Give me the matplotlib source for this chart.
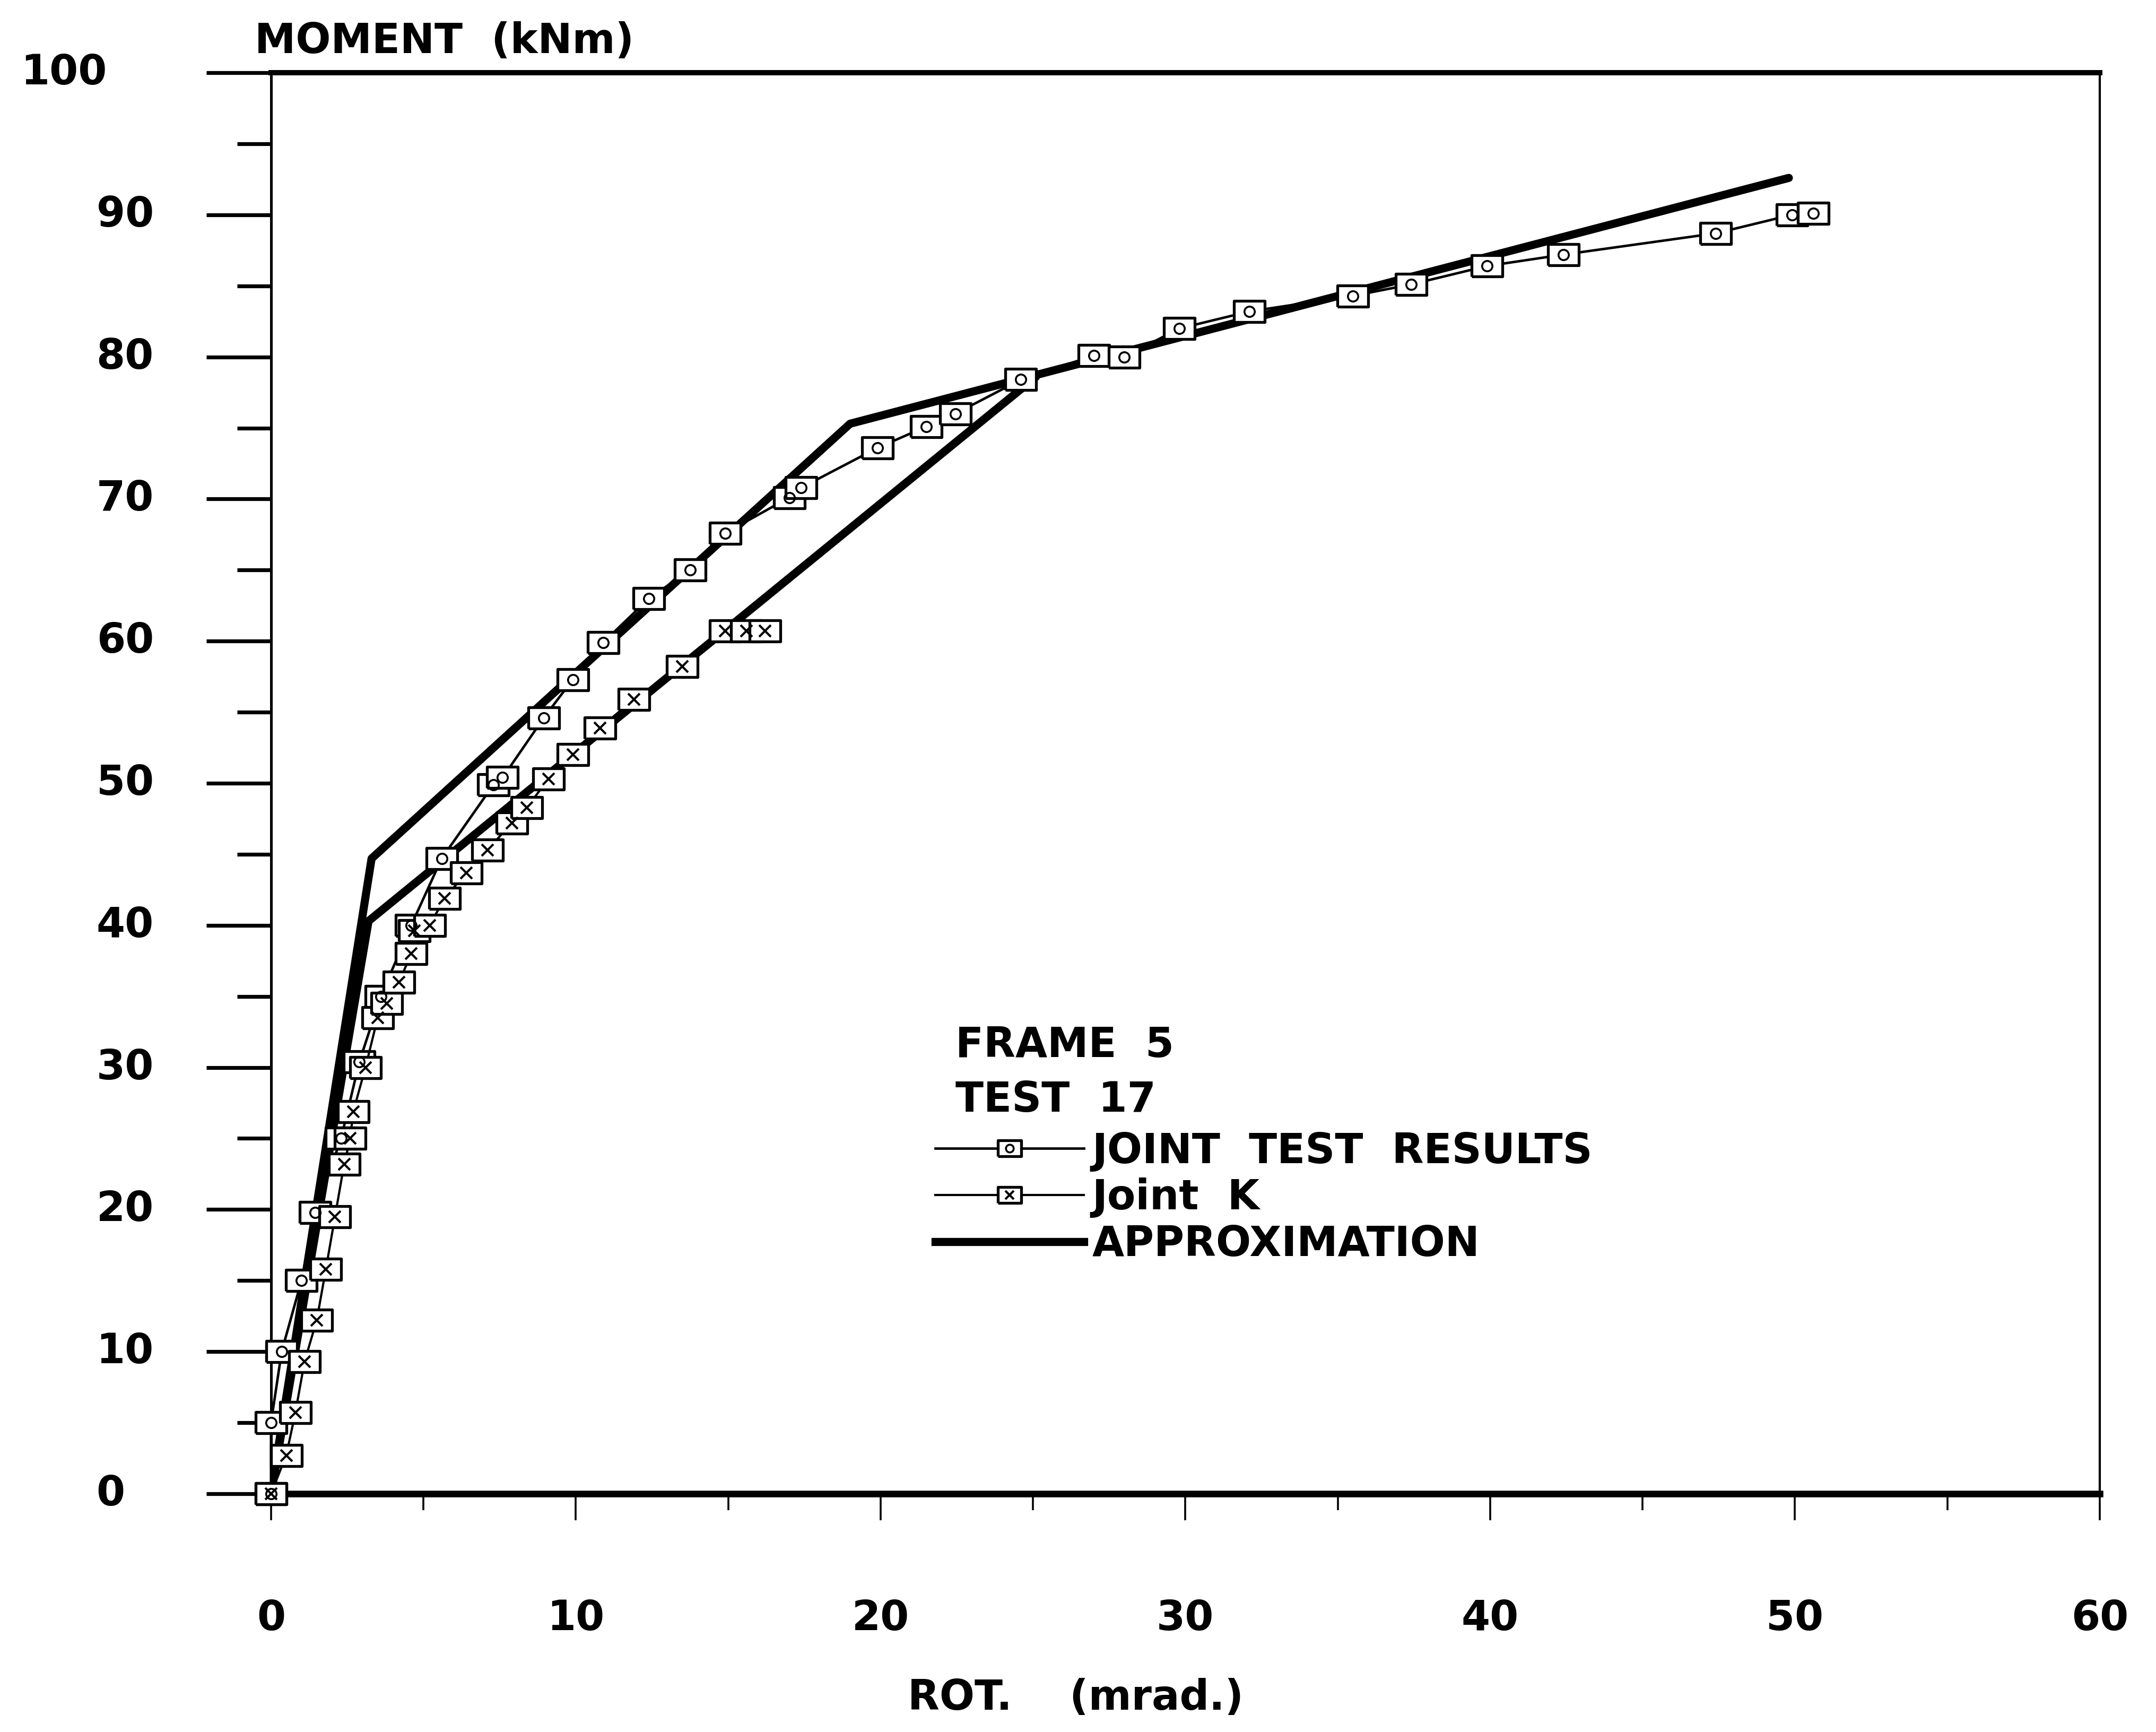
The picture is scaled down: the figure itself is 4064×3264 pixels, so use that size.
import matplotlib
matplotlib.use('Agg')
import matplotlib.pyplot as plt
from matplotlib.lines import Line2D
from matplotlib.legend_handler import HandlerTuple
from matplotlib.ticker import MultipleLocator

# joint test results (upper branch, goes on to 50 mrad)
test_rot = [0, 0.0, 0.35, 1.0, 1.45, 2.3, 2.9, 3.6, 4.6, 5.6, 7.3, 7.6, 8.95, 9.9,
            10.9, 12.4, 13.75, 14.9, 17.0, 17.4, 19.9, 21.5, 22.45, 24.6, 27.0, 28.0,
            29.8, 32.1, 35.5, 37.4, 39.9, 42.4, 47.4, 49.9, 50.6]
test_mom = [0, 5.0, 10.0, 15.0, 19.8, 25.0, 30.4, 35.0, 40.0, 44.7, 49.9, 50.4, 54.6, 57.3,
            59.9, 63.0, 65.0, 67.6, 70.1, 70.8, 73.6, 75.1, 76.0, 78.4, 80.1, 80.0,
            82.0, 83.2, 84.3, 85.1, 86.4, 87.2, 88.7, 90.0, 90.1]

# Joint K (lower branch, stops near 16 mrad)
k_rot = [0, 0.5, 0.8, 1.1, 1.5, 1.8, 2.1, 2.4, 2.6, 2.7, 3.1, 3.5, 3.8, 4.2, 4.6,
         4.7, 5.2, 5.7, 6.4, 7.1, 7.9, 8.4, 9.1, 9.9, 10.8, 11.9, 13.5, 14.9, 15.6, 16.2]
k_mom = [0, 2.7, 5.7, 9.3, 12.2, 15.8, 19.5, 23.2, 25.0, 26.9, 30.0, 33.5, 34.5, 36.0, 38.0,
         39.6, 40.0, 41.9, 43.7, 45.3, 47.2, 48.3, 50.3, 52.0, 53.9, 55.9, 58.2, 60.7, 60.7, 60.7]

# approximation (two multilinear branches)
appr1_rot = [0, 3.3, 19.0, 49.8]
appr1_mom = [0, 44.7, 75.3, 92.6]
appr2_rot = [0, 3.2, 25.1]
appr2_mom = [0, 40.3, 78.6]

x_ticks = [0, 10, 20, 30, 40, 50, 60]
y_ticks = [0, 10, 20, 30, 40, 50, 60, 70, 80, 90, 100]

FS = 28
plt.rcParams['font.family'] = 'DejaVu Sans'
plt.rcParams['font.weight'] = 'bold'

fig = plt.figure(figsize=(20.32, 16.32), dpi=200)
ax = fig.add_axes([0.1257, 0.1376, 0.8482, 0.8204])

# wide rectangular plotter marker
box = [(-1, -0.67), (1, -0.67), (1, 0.67), (-1, 0.67), (-1, -0.67)]

ax.plot(appr1_rot, appr1_mom, color='k', lw=5.5, solid_capstyle='round', zorder=2)
ax.plot(appr2_rot, appr2_mom, color='k', lw=5.5, solid_capstyle='round', zorder=2)

ln_t, = ax.plot(test_rot, test_mom, color='k', lw=1.7, marker=box, ms=21, mfc='white',
                mec='k', mew=1.9, zorder=3, clip_on=False)
in_t, = ax.plot(test_rot, test_mom, ls='none', marker='o', ms=7, mfc='none', mec='k',
                mew=1.3, zorder=4, clip_on=False)
ln_k, = ax.plot(k_rot, k_mom, color='k', lw=1.5, marker=box, ms=21, mfc='white',
                mec='k', mew=1.9, zorder=3, clip_on=False)
in_k, = ax.plot(k_rot, k_mom, ls='none', marker='x', ms=8, mec='k', mew=1.5,
                zorder=4, clip_on=False)
ln_a = Line2D([], [], color='k', lw=5.5)

ax.set_xlim(0, 60)
ax.set_ylim(0, 100)

ax.xaxis.set_major_locator(MultipleLocator(10))
ax.xaxis.set_minor_locator(MultipleLocator(5))
ax.yaxis.set_major_locator(MultipleLocator(10))
ax.yaxis.set_minor_locator(MultipleLocator(5))
ax.set_xticks(x_ticks)
ax.set_xticklabels([str(v) for v in x_ticks])

ax.tick_params(axis='x', which='major', direction='out', length=18, width=1.3,
               pad=53, labelsize=FS)
ax.tick_params(axis='x', which='minor', direction='out', length=11, width=1.3)
ax.tick_params(axis='y', which='major', direction='out', length=44, width=2.6,
               labelleft=False)
ax.tick_params(axis='y', which='minor', direction='out', length=23, width=2.6)

for lbl in ax.get_xticklabels():
    lbl.set_fontweight('bold')

# y tick labels, plotter style (left aligned, 100 sits further out)
for v in y_ticks:
    s = str(v)
    xpos = -0.1368 if len(s) > 2 else -0.0955
    ax.text(xpos, v, s, transform=ax.get_yaxis_transform(), ha='left', va='center',
            fontsize=FS, fontweight='bold')

ax.spines['top'].set_linewidth(3.6)
ax.spines['bottom'].set_linewidth(4.5)
ax.spines['left'].set_linewidth(1.8)
ax.spines['right'].set_linewidth(1.5)

ax.set_ylabel('MOMENT  (kNm)', rotation=0, ha='left', va='center', fontsize=FS,
              fontweight='bold')
ax.yaxis.set_label_coords(-0.009, 1.022)
ax.set_xlabel('ROT.    (mrad.)', ha='center', va='center', fontsize=FS, fontweight='bold')
ax.xaxis.set_label_coords(0.44, -0.144)

ax.text(0.3744, 0.3156, 'FRAME  5', transform=ax.transAxes, ha='left', va='center',
        fontsize=FS, fontweight='bold')
ax.text(0.3744, 0.2769, 'TEST  17', transform=ax.transAxes, ha='left', va='center',
        fontsize=FS, fontweight='bold')

leg = ax.legend([(ln_t, in_t), (ln_k, in_k), ln_a],
                ['JOINT  TEST  RESULTS', 'Joint  K', 'APPROXIMATION'],
                handler_map={tuple: HandlerTuple(ndivide=1)},
                loc='upper left', bbox_to_anchor=(0.3632, 0.2552), frameon=False,
                fontsize=FS, handlelength=3.6, handletextpad=0.2, labelspacing=0.15,
                borderpad=0, borderaxespad=0, numpoints=1, markerscale=0.75)
for t in leg.get_texts():
    t.set_fontweight('bold')

fig.savefig('out.png', dpi=200)
